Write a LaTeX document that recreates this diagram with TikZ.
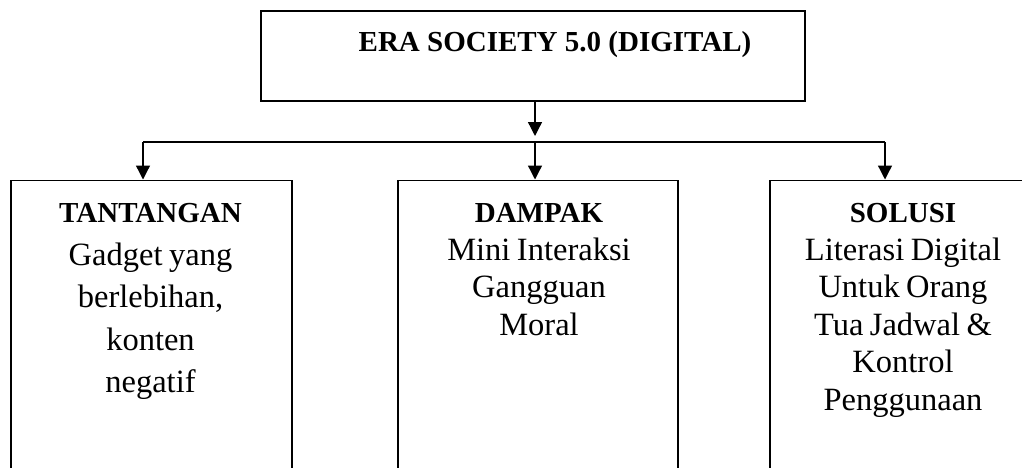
\documentclass[tikz,border=0pt]{standalone}
\usepackage{fontspec}
\setmainfont{Liberation Serif}
\usetikzlibrary{arrows.meta}
\tikzset{
  box/.style={draw=black, line width=1.3pt, inner sep=0pt, fill=none},
  arr/.style={line width=1.3pt, -{Triangle[length=14pt,width=14pt]}},
  conn/.style={line width=1.3pt},
  txt/.style={anchor=base, inner sep=0pt, align=center},
  headfont/.style={font=\bfseries\fontsize{29}{34}\selectfont},
  bodyA/.style={font={\fontsize{32.5}{42.5}\selectfont\spaceskip=0.2em\relax}},
  bodyB/.style={font={\fontsize{32.5}{37.5}\selectfont\spaceskip=0.2em\relax}},
}
\newcommand{\hd}[1]{{\bfseries\fontsize{29}{34}\selectfont #1}}
\begin{document}
\begin{tikzpicture}[x=1pt,y=1pt]
\clip (0,0) rectangle (1022,467);
\fill[white] (0,0) rectangle (1022,467);
% top box
\node[box, minimum width=544pt, minimum height=90pt] (top) at (533,411) {};
\node[txt, headfont] (title) at (555,415) {ERA SOCIETY 5.0 (DIGITAL)};
% bottom boxes (open at bottom, run past the page edge)
\node[box, anchor=north, minimum width=281pt, minimum height=320pt] (left) at (151.5,287.5) {};
\node[box, anchor=north, minimum width=280pt, minimum height=320pt] (mid) at (538,287.5) {};
\node[box, anchor=north, minimum width=270pt, minimum height=320pt] (right) at (905,287.5) {};
% junctions
\coordinate (jL) at (143,325);
\coordinate (jM) at (535,325);
\coordinate (jR) at (885,325);
\coordinate (jT) at (535,331);
% connectors
\draw[arr] (top.south -| jM) -- (jT);
\draw[conn] (jL) -- (jR);
\draw[arr] (jL) -- (jL |- left.north);
\draw[arr] (jM) -- (jM |- mid.north);
\draw[arr] (jR) -- (jR |- right.north);
% texts (base anchor = baseline of the last line)
\node[txt, bodyA] (tleft) at (150.5,74.5)
  {\hd{TANTANGAN}\\Gadget yang\\berlebihan,\\konten\\negatif};
\node[txt, bodyB] (tmid) at (539,132)
  {\hd{DAMPAK}\\Mini Interaksi\\Gangguan\\Moral};
\node[txt, bodyB] (tright) at (903,57)
  {\hd{SOLUSI}\\Literasi Digital\\Untuk Orang\\Tua Jadwal \&\\Kontrol\\Penggunaan};
\end{tikzpicture}
\end{document}
